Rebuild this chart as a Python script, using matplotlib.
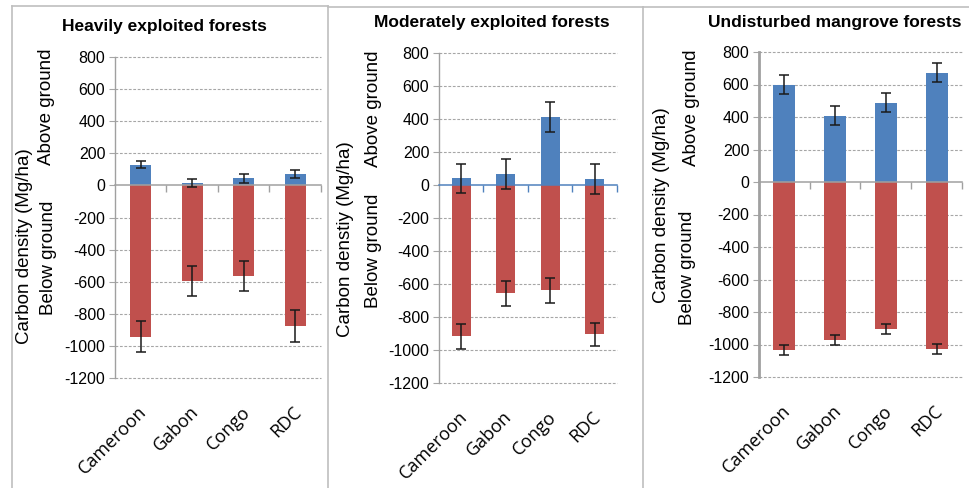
import numpy as np
import matplotlib
matplotlib.use('Agg')
import matplotlib.pyplot as plt
from matplotlib.lines import Line2D
import matplotlib.transforms as mtransforms

plt.rcParams['font.family'] = ['Liberation Sans', 'DejaVu Sans']

# data
countries = ['Cameroon', 'Gabon', 'Congo', 'RDC']

heavy_above = [130, 12, 43, 68]
heavy_above_err = [20, 25, 25, 25]
heavy_below = [-942, -596, -565, -876]
heavy_below_err = [96, 95, 95, 97]

moderate_above = [42, 68, 412, 38]
moderate_above_err = [88, 91, 89, 90]
moderate_below = [-917, -657, -639, -905]
moderate_below_err = [74, 75, 75, 71]

undist_above = [600, 408, 488, 672]
undist_above_err = [58, 58, 58, 58]
undist_below = [-1035, -972, -906, -1028]
undist_below_err = [32, 32, 32, 32]

yticks = [800, 600, 400, 200, 0, -200, -400, -600, -800, -1000, -1200]

BLUE = '#4F81BD'
RED = '#C0504D'
GRID = '#A6A6A6'
W, H = 970, 488

fig = plt.figure(figsize=(9.7, 4.88), dpi=100)


def px_axes(x0, y0, x1, y1):
    # pixel box (top-left origin) -> figure fraction
    return fig.add_axes([x0 / W, 1 - y1 / H, (x1 - x0) / W, (y1 - y0) / H])


def panel(box, above, above_err, below, below_err, title, title_xy,
          ylab, ylab_pos, zero_color, spine_lw, bar_w):
    ax = px_axes(*box)
    x = np.arange(len(countries))
    ax.bar(x, below, width=bar_w, color=RED, zorder=2)
    ax.bar(x, above, width=bar_w, color=BLUE, zorder=2)
    ekw = dict(fmt='none', ecolor='#1a1a1a', elinewidth=1.1, capsize=3.5,
               capthick=1.1, zorder=4)
    ax.errorbar(x, above, yerr=above_err, **ekw)
    ax.errorbar(x, below, yerr=below_err, **ekw)

    ax.set_xlim(-0.5, len(countries) - 0.5)
    ax.set_ylim(-1200, 800)
    ax.set_yticks(yticks)
    ax.set_yticklabels([str(v) for v in yticks], fontsize=11.5)
    for v in yticks:
        if v != 0:
            ax.axhline(v, color=GRID, lw=0.8, ls=(0, (2.5, 1.5)), zorder=1,
                       clip_on=False)
    ax.tick_params(axis='y', length=4, width=0.8, color=GRID, pad=3)

    for s in ['top', 'right']:
        ax.spines[s].set_visible(False)
    ax.spines['left'].set_color('#A0A0A0')
    ax.spines['left'].set_linewidth(spine_lw)
    ax.spines['bottom'].set_position(('data', 0))
    ax.spines['bottom'].set_color(zero_color)
    ax.spines['bottom'].set_linewidth(1.1)
    ax.spines['bottom'].set_zorder(3)
    ax.set_xticks(np.arange(len(countries)) + 0.5)
    ax.set_xticklabels([])
    ax.tick_params(axis='x', length=5, width=1, color=zero_color,
                   direction='out')

    trans = mtransforms.blended_transform_factory(ax.transData, ax.transAxes)
    trans = trans + mtransforms.ScaledTranslation(-0.03, -0.25, fig.dpi_scale_trans)
    for i, c in enumerate(countries):
        ax.text(i, 0, c, transform=trans, rotation=45, ha='right', va='top',
                rotation_mode='anchor', fontsize=13, family=['Open Sans', 'DejaVu Sans'])

    fig.text(title_xy[0] / W, 1 - title_xy[1] / H, title, ha='center',
             va='center', fontsize=12.5, fontweight='bold')
    (cx, cy), (ax_x, ax_y), (bx, by) = ylab_pos
    fig.text(cx / W, 1 - cy / H, ylab, rotation=90, ha='center', va='center',
             fontsize=13.5)
    fig.text(ax_x / W, 1 - ax_y / H, 'Above ground', rotation=90, ha='center',
             va='center', fontsize=13.5)
    fig.text(bx / W, 1 - by / H, 'Below ground', rotation=90, ha='center',
             va='center', fontsize=13.5)
    return ax


panel((115, 57, 321, 378), heavy_above, heavy_above_err, heavy_below,
      heavy_below_err, 'Heavily exploited forests', (164, 26),
      'Carbon density (Mg/ha)', ((25, 246), (47, 107), (49, 258)),
      '#A0A0A0', 1.0, 0.4)
panel((439, 53, 617, 383), moderate_above, moderate_above_err, moderate_below,
      moderate_below_err, 'Moderately exploited forests', (492, 22),
      'Carbon denstiy (Mg/ha)', ((346, 239), (373, 109), (374, 251)),
      BLUE, 1.0, 0.43)
panel((759, 52, 962, 377), undist_above, undist_above_err, undist_below,
      undist_below_err, 'Undisturbed mangrove forests', (835, 23),
      'Carbon density (Mg/ha)', ((662, 205), (692, 108), (688, 268)),
      '#A0A0A0', 2.0, 0.43)

# chart frames
frame = '#BFBFBF'
segs = [((12, 12), (6, 488)), ((12, 328), (6, 6)), ((328, 328), (6, 488)),
        ((328, 643), (7, 7)), ((643, 643), (7, 488)), ((643, 970), (7, 7))]
for (xa, xb), (ya, yb) in segs:
    fig.add_artist(Line2D([xa / W, xb / W], [1 - ya / H, 1 - yb / H],
                          transform=fig.transFigure, color=frame, lw=1.2))

fig.savefig('out.png', dpi=100)
